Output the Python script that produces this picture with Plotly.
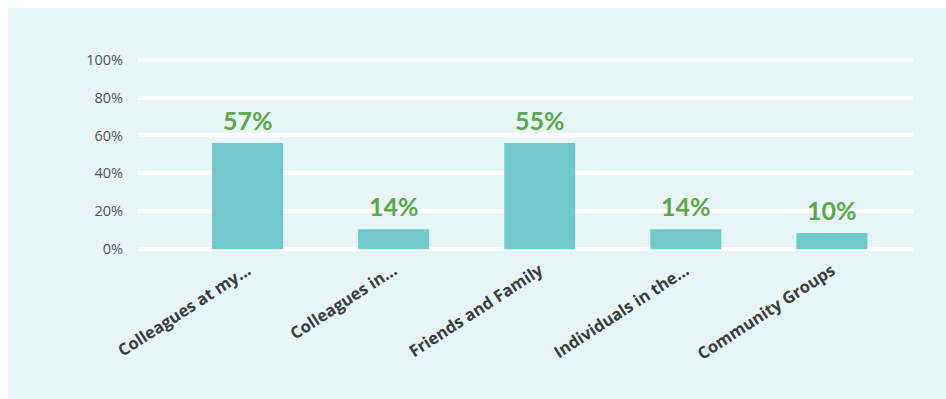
import plotly.graph_objects as go

categories = ["Colleagues at my...", "Colleagues in...", "Friends and Family",
              "Individuals in the...", "Community Groups"]
bar_values = [56, 10.5, 56, 10.5, 8.5]          # heights as drawn in the picture
label_texts = ["57%", "14%", "55%", "14%", "10%"]  # printed data labels
y_ticks = [0, 20, 40, 60, 80, 100]
y_tick_labels = ["0%", "20%", "40%", "60%", "80%", "100%"]

PANEL = "#e8f5f7"
BAR = "#72c9cb"
GREEN = "#5aa847"

W, H = 946, 399
ml, mr, mt, mb = 138, 33, 52, 146
pw = W - ml - mr
ph = H - mt - mb

fig = go.Figure()
fig.add_trace(go.Bar(
    x=list(range(len(categories))), y=bar_values,
    marker=dict(color=BAR, line=dict(width=0)),
    width=0.486, hoverinfo="skip",
))

for i, (v, t) in enumerate(zip(bar_values, label_texts)):
    fig.add_annotation(x=i, y=v, text=t, showarrow=False, yanchor="bottom",
                       yshift=6, font=dict(family="Lato", size=25, color=GREEN,
                                           weight="bold"))

fig.add_shape(type="rect", xref="paper", yref="paper",
              x0=(8 - ml) / pw, x1=(W - ml) / pw,
              y0=(mt + ph - H) / ph, y1=(mt + ph - 8) / ph,
              fillcolor=PANEL, line=dict(width=0), layer="below")

fig.update_layout(
    width=W, height=H,
    margin=dict(l=ml, r=mr, t=mt, b=mb, pad=0),
    paper_bgcolor="white", plot_bgcolor=PANEL,
    showlegend=False,
    xaxis=dict(tickmode="array", tickvals=list(range(len(categories))),
               ticktext=categories, tickangle=-33, range=[-0.75, 4.555],
               showgrid=False, zeroline=False, showline=False, ticks="",
               ticklabelstandoff=4,
               tickfont=dict(family="Open Sans", size=16.5, color="#3c3c3c",
                             weight="bold")),
    yaxis=dict(tickmode="array", tickvals=y_ticks, ticktext=y_tick_labels,
               range=[-2, 104], showgrid=True, gridcolor="white", gridwidth=4,
               zeroline=False, showline=False, ticks="", ticklabelstandoff=14,
               tickfont=dict(family="Open Sans", size=14.5, color="#555555")),
)

fig.write_html("out.html")
